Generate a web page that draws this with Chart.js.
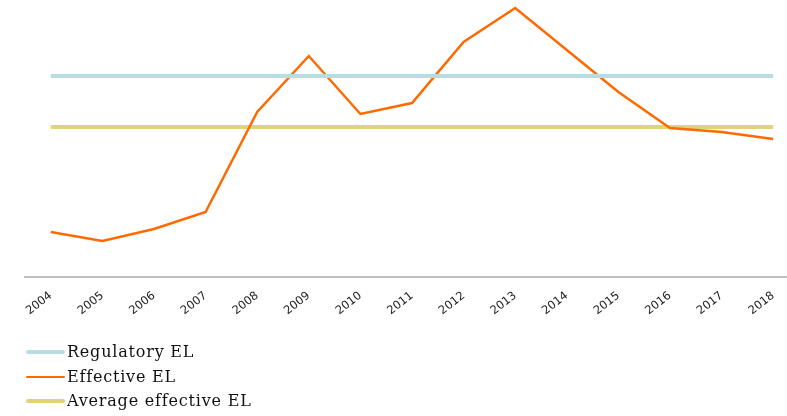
<!DOCTYPE html>
<html>
<head>
<meta charset="utf-8">
<script src="https://cdn.jsdelivr.net/npm/chart.js@4/dist/chart.umd.min.js"></script>
<style>
  html,body{margin:0;padding:0;background:#fff;}
  #wrap{position:relative;width:787px;height:416px;overflow:hidden;}
  #legend{position:absolute;left:26px;top:340px;font-family:"DejaVu Serif",serif;font-size:16px;letter-spacing:0.8px;color:#111;}
  #legend div{height:24.5px;line-height:24px;display:flex;align-items:center;}
  #legend span.sw{display:inline-block;width:39px;margin-right:2px;border-radius:2px;}
</style>
</head>
<body>
<div id="wrap">
  <canvas id="myChart" width="799" height="416"></canvas>
  <div id="legend"></div>
</div>
<script>
var years=["2004","2005","2006","2007","2008","2009","2010","2011","2012","2013","2014","2015","2016","2017","2018"];
var regulatoryEL=[2.01,2.01,2.01,2.01,2.01,2.01,2.01,2.01,2.01,2.01,2.01,2.01,2.01,2.01,2.01];
var effectiveEL=[0.45,0.36,0.48,0.65,1.65,2.21,1.63,1.74,2.35,2.69,2.27,1.85,1.49,1.45,1.38];
var averageEL=[1.50,1.50,1.50,1.50,1.50,1.50,1.50,1.50,1.50,1.50,1.50,1.50,1.50,1.50,1.50];

var htmlLegend={
  id:"htmlLegend",
  afterUpdate:function(chart){
    var box=document.getElementById("legend");
    box.innerHTML="";
    chart.data.datasets.forEach(function(ds){
      var row=document.createElement("div");
      var sw=document.createElement("span");
      sw.className="sw";
      sw.style.height=ds.borderWidth+"px";
      sw.style.background=ds.borderColor;
      row.appendChild(sw);
      row.appendChild(document.createTextNode(ds.label));
      box.appendChild(row);
    });
  }
};

var ctx=document.getElementById("myChart").getContext("2d");
var chart=new Chart(ctx,{
  type:"line",
  data:{
    labels:years,
    datasets:[
      {label:"Regulatory EL",data:regulatoryEL,borderColor:"#b9dce2",borderWidth:4,pointRadius:0,tension:0},
      {label:"Effective EL",data:effectiveEL,borderColor:"#ff6a00",borderWidth:2.5,pointRadius:0,tension:0},
      {label:"Average effective EL",data:averageEL,borderColor:"#e0d37a",borderWidth:4,pointRadius:0,tension:0}
    ]
  },
  options:{
    responsive:false,
    animation:false,
    layout:{padding:{left:25,right:0,top:0,bottom:0}},
    plugins:{legend:{display:false},tooltip:{enabled:false}},
    scales:{
      x:{
        offset:true,
        grid:{display:false,drawTicks:false},
        border:{display:true,color:"#bfbfbf",width:2},
        ticks:{
          autoSkip:false,minRotation:38,maxRotation:38,padding:12,
          color:"#222",font:{family:"DejaVu Sans",size:11.5}
        },
        afterFit:function(s){s.height=139;}
      },
      y:{
        display:false,min:0,max:2.77
      }
    }
  },
  plugins:[htmlLegend]
});
</script>
</body>
</html>
